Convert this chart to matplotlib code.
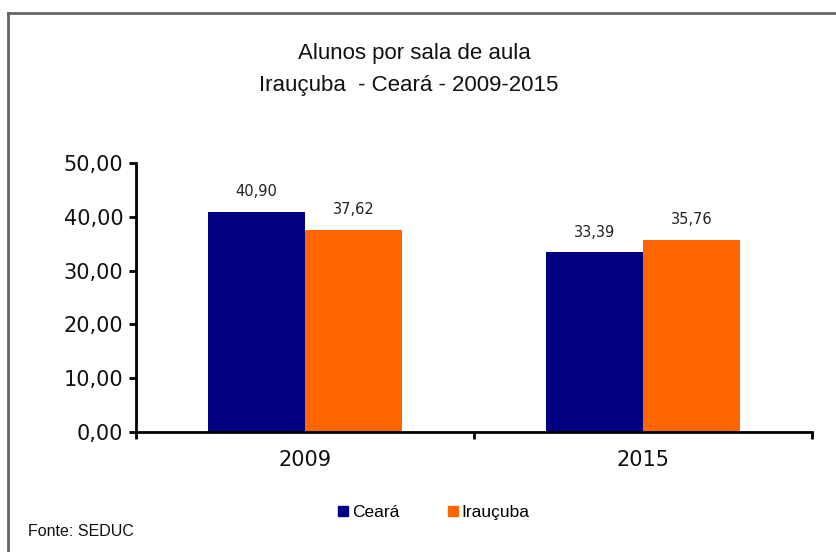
import matplotlib.pyplot as plt
from matplotlib.lines import Line2D
import numpy as np

# dados
anos = ["2009", "2015"]
ceara = [40.90, 33.39]
iraucuba = [37.62, 35.76]
yticks = [0, 10, 20, 30, 40, 50]

cor_ceara = "#000080"
cor_irau = "#FF6600"

plt.rcParams["font.family"] = ["Liberation Sans", "DejaVu Sans"]
num_font = ["DejaVu Sans"]

fig = plt.figure(figsize=(8.37, 5.52), dpi=100)
ax = fig.add_axes([136 / 837, 1 - 432 / 552, (812 - 136) / 837, (432 - 163) / 552])

x = np.arange(len(anos))
w = 0.287
b1 = ax.bar(x - w / 2, ceara, w, color=cor_ceara, label="Ceará")
b2 = ax.bar(x + w / 2, iraucuba, w, color=cor_irau, label="Irauçuba")

def fmt(v):
    return ("%.2f" % v).replace(".", ",")

for bars, vals in ((b1, ceara), (b2, iraucuba)):
    for r, v in zip(bars, vals):
        ax.annotate(fmt(v), (r.get_x() + r.get_width() / 2, v), xytext=(0, 9),
                    textcoords="offset points", ha="center", va="bottom",
                    fontsize=10.5, color="#222222", family=num_font)

ax.set_xlim(-0.5, 1.5)
ax.set_ylim(0, 50)
ax.set_yticks(yticks)
ax.set_yticklabels([fmt(t) for t in yticks], fontsize=15, color="#111111", family=num_font)
ax.set_xticks(x)
ax.set_xticklabels(anos, fontsize=15, color="#111111", family=num_font)
ax.tick_params(axis="x", which="major", length=0, pad=13)
ax.set_xticks([-0.5, 0.5, 1.5], minor=True)
ax.tick_params(axis="x", which="minor", length=5, width=2, direction="out")
ax.tick_params(axis="y", length=5, width=2, direction="out", pad=4)
for s in ["top", "right"]:
    ax.spines[s].set_visible(False)
for s in ["left", "bottom"]:
    ax.spines[s].set_linewidth(2)

fig.text(414 / 837, 1 - 54 / 552, "Alunos por sala de aula", ha="center", va="center",
         fontsize=16, color="#111111")
fig.text(409 / 837, 1 - 85 / 552, "Irauçuba  - Ceará - 2009-2015", ha="center", va="center",
         fontsize=16, color="#111111")

handles = [Line2D([], [], marker="s", linestyle="", color=cor_ceara, markersize=7.5),
           Line2D([], [], marker="s", linestyle="", color=cor_irau, markersize=7.5)]
fig.legend(handles, ["Ceará", "Irauçuba"], loc="center", bbox_to_anchor=(432 / 837, 1 - 512 / 552),
           ncol=2, frameon=False, handletextpad=0.0, columnspacing=2.6, handlelength=1.0,
           prop={"size": 12.5})

fig.text(28 / 837, 1 - 531 / 552, "Fonte: SEDUC", ha="left", va="center", fontsize=11.5,
         color="#111111")

# moldura (bordas esquerda e superior)
fig.add_artist(Line2D([8 / 837, 8 / 837], [0, 1 - 13 / 552], color="#666666", lw=2, transform=fig.transFigure))
fig.add_artist(Line2D([8 / 837, 1], [1 - 13 / 552, 1 - 13 / 552], color="#666666", lw=2, transform=fig.transFigure))

fig.savefig("out.png", dpi=100)
